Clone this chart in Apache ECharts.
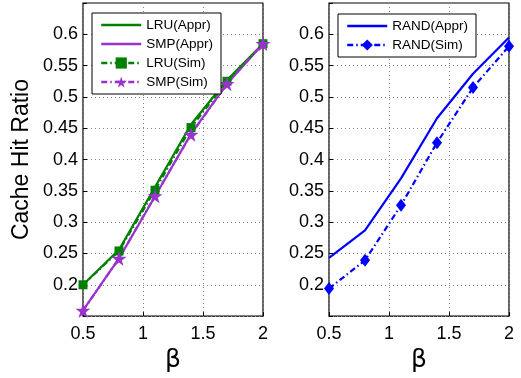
<!DOCTYPE html>
<html>
<head>
<meta charset="utf-8">
<script src="https://cdn.jsdelivr.net/npm/echarts@6/dist/echarts.min.js"></script>
<style>
  html, body { margin: 0; padding: 0; background: #fff; }
  #main { width: 521px; height: 378px; }
</style>
</head>
<body>
<div id="main"></div>
<script>
  // beta values on x axis
  const betas = [0.5, 0.8, 1.1, 1.4, 1.7, 2.0]
  const xTicks = [0.5, 1, 1.5, 2]
  const yTicks = [0.2, 0.25, 0.3, 0.35, 0.4, 0.45, 0.5, 0.55, 0.6]

  // left panel
  const lruAppr = [0.200, 0.256, 0.356, 0.456, 0.527, 0.585]
  const smpAppr = [0.159, 0.242, 0.341, 0.441, 0.521, 0.585]
  const lruSim = [0.200, 0.254, 0.351, 0.451, 0.525, 0.585]
  const smpSim = [0.159, 0.242, 0.342, 0.440, 0.521, 0.585]
  // right panel
  const randAppr = [0.243, 0.287, 0.370, 0.466, 0.537, 0.595]
  const randSim = [0.194, 0.239, 0.327, 0.427, 0.515, 0.581]

  const GREEN = '#008000'
  const PURPLE = '#9933cc'
  const BLUE = '#0000ff'
  const STAR = 'path://M50,0 L61,35 L98,35 L68,57 L79,91 L50,70 L21,91 L32,57 L2,35 L39,35 Z'
  const DASHDOT = [6, 3, 1.5, 3]

  function pairs(vals) {
    return betas.map((b, i) => [b, vals[i]])
  }

  function xAxis(idx) {
    return {
      type: 'value',
      gridIndex: idx,
      min: 0.5,
      max: 2,
      interval: 0.5,
      name: 'β',
      nameLocation: 'middle',
      nameGap: 27,
      nameTextStyle: { fontSize: 25, color: '#000', fontFamily: 'DejaVu Sans' },
      axisLine: { show: false },
      axisTick: { inside: true, length: 4, lineStyle: { color: '#000' } },
      axisLabel: {
        fontSize: 18, color: '#000', fontFamily: 'Liberation Sans', margin: 9,
        formatter: v => xTicks.indexOf(v) >= 0 ? String(v) : ''
      },
      splitLine: { show: true, lineStyle: { color: '#888', type: [1, 3], width: 1 } }
    }
  }

  function yAxis(idx, name) {
    return {
      type: 'value',
      gridIndex: idx,
      min: 0.15,
      max: 0.65,
      interval: 0.05,
      name: name,
      nameLocation: 'middle',
      nameGap: 50,
      nameTextStyle: { fontSize: 23, color: '#000', fontFamily: 'Liberation Sans' },
      axisLine: { show: false },
      axisTick: { inside: true, length: 4, lineStyle: { color: '#000' } },
      axisLabel: {
        fontSize: 18, color: '#000', fontFamily: 'Liberation Sans', margin: 5,
        formatter: v => {
          const r = Math.round(v * 100) / 100
          return yTicks.indexOf(r) >= 0 ? String(r) : ''
        }
      },
      splitLine: { show: true, lineStyle: { color: '#888', type: [1, 3], width: 1 } }
    }
  }

  const legendBase = {
    orient: 'vertical',
    backgroundColor: '#fff',
    borderColor: '#000',
    borderWidth: 1,
    borderRadius: 0,
    itemWidth: 40,
    itemHeight: 14,
    itemGap: 5,
    padding: [5, 8, 5, 8],
    lineStyle: { width: 2.5 },
    textStyle: { fontSize: 13.5, color: '#000', fontFamily: 'Liberation Sans' }
  }
  // solid lines have no marker in the legend
  const noMark = { opacity: 0 }

  const chart = echarts.init(document.getElementById('main'))
  chart.setOption({
    animation: false,
    grid: [
      { left: 83, right: 258, top: 3, bottom: 55, show: true, borderColor: '#000', borderWidth: 1.2, backgroundColor: 'transparent' },
      { left: 329, right: 12, top: 3, bottom: 55, show: true, borderColor: '#000', borderWidth: 1.2, backgroundColor: 'transparent' }
    ],
    xAxis: [xAxis(0), xAxis(1)],
    yAxis: [yAxis(0, 'Cache Hit Ratio'), yAxis(1, '')],
    legend: [
      Object.assign({}, legendBase, {
        left: 92, top: 13,
        data: [
          { name: 'LRU(Appr)', itemStyle: noMark },
          { name: 'SMP(Appr)', itemStyle: noMark },
          'LRU(Sim)', 'SMP(Sim)'
        ]
      }),
      Object.assign({}, legendBase, {
        left: 338, top: 14,
        data: [{ name: 'RAND(Appr)', itemStyle: noMark }, 'RAND(Sim)']
      })
    ],
    series: [{
      name: 'LRU(Appr)',
      type: 'line',
      xAxisIndex: 0, yAxisIndex: 0,
      symbol: 'none',
      lineStyle: { color: GREEN, width: 2.2 },
      itemStyle: { color: GREEN },
      data: pairs(lruAppr)
    }, {
      name: 'SMP(Appr)',
      type: 'line',
      xAxisIndex: 0, yAxisIndex: 0,
      symbol: 'none',
      lineStyle: { color: PURPLE, width: 2.2 },
      itemStyle: { color: PURPLE },
      data: pairs(smpAppr)
    }, {
      name: 'LRU(Sim)',
      type: 'line',
      xAxisIndex: 0, yAxisIndex: 0,
      symbol: 'rect',
      symbolSize: 9,
      lineStyle: { color: GREEN, width: 2.2, type: DASHDOT },
      itemStyle: { color: GREEN },
      data: pairs(lruSim)
    }, {
      name: 'SMP(Sim)',
      type: 'line',
      xAxisIndex: 0, yAxisIndex: 0,
      symbol: STAR,
      symbolSize: 15,
      lineStyle: { color: PURPLE, width: 2.2, type: DASHDOT },
      itemStyle: { color: PURPLE },
      data: pairs(smpSim)
    }, {
      name: 'RAND(Appr)',
      type: 'line',
      xAxisIndex: 1, yAxisIndex: 1,
      symbol: 'none',
      lineStyle: { color: BLUE, width: 2.2 },
      itemStyle: { color: BLUE },
      data: pairs(randAppr)
    }, {
      name: 'RAND(Sim)',
      type: 'line',
      xAxisIndex: 1, yAxisIndex: 1,
      symbol: 'diamond',
      symbolSize: [10, 13],
      lineStyle: { color: BLUE, width: 2.2, type: DASHDOT },
      itemStyle: { color: BLUE },
      data: pairs(randSim)
    }]
  })
</script>
</body>
</html>
